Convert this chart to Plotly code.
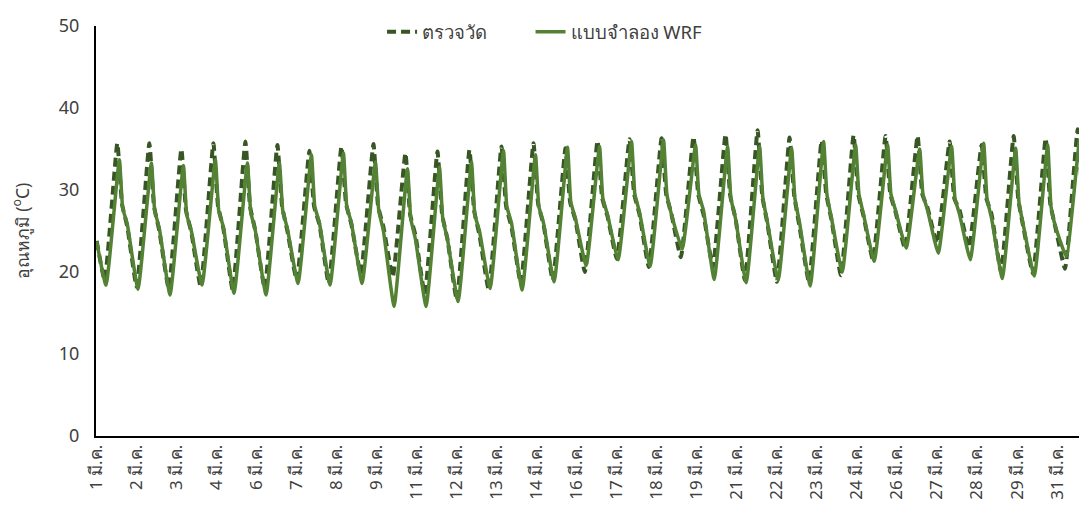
import plotly.graph_objects as go

# Tick labels (every 30 hours on an hourly category axis)
tick_hours = [0, 30, 60, 90, 120, 150, 180, 210, 240, 270, 300, 330, 360,
              390, 420, 450, 480, 510, 540, 570, 600, 630, 660, 690, 720]
tick_labels = ["1 มี.ค.", "2 มี.ค.", "3 มี.ค.", "4 มี.ค.", "6 มี.ค.", "7 มี.ค.",
               "8 มี.ค.", "9 มี.ค.", "11 มี.ค.", "12 มี.ค.", "13 มี.ค.", "14 มี.ค.",
               "16 มี.ค.", "17 มี.ค.", "18 มี.ค.", "19 มี.ค.", "21 มี.ค.", "22 มี.ค.",
               "23 มี.ค.", "24 มี.ค.", "26 มี.ค.", "27 มี.ค.", "28 มี.ค.", "29 มี.ค.",
               "31 มี.ค."]
series_names = ["ตรวจวัด", "แบบจำลอง WRF"]

# Hour-of-day of the key points read for each day: min, max, shoulder, evening
obs_hours_of_day = [6, 15.5, 19, 23]
wrf_hours_of_day = [7, 17, 19.5, 23]

# Observed (ตรวจวัด) daily key values, 1-31 March
obs_start = 23.8
obs_min = [19.0, 18.2, 18.0, 18.2, 17.8, 18.0, 19.0, 18.6, 19.8, 19.4, 17.3, 16.6,
           17.8, 18.6, 19.0, 20.0, 21.6, 20.6, 21.8, 20.6, 19.0, 18.8, 18.8, 19.6,
           21.5, 22.9, 23.5, 23.0, 20.0, 19.8, 20.4]
obs_max = [35.7, 35.7, 35.0, 35.7, 35.9, 35.5, 34.8, 35.3, 35.6, 34.5, 34.7, 34.9,
           35.3, 35.7, 35.1, 36.0, 36.2, 36.3, 36.5, 36.8, 37.3, 36.4, 36.0, 36.7,
           36.6, 36.6, 35.9, 35.5, 36.6, 36.3, 37.4]
obs_shoulder = [28.3, 28.0, 27.5, 28.0, 28.0, 28.0, 28.0, 28.3, 28.0, 27.0, 27.0, 27.5,
                28.0, 28.3, 28.5, 29.0, 29.5, 29.5, 29.5, 29.3, 29.3, 29.3, 29.5, 29.5,
                29.5, 29.5, 29.0, 29.0, 28.8, 28.3, 29.5]
obs_evening = [25.5, 25.0, 24.8, 25.3, 25.0, 25.0, 25.8, 25.8, 25.5, 24.5, 24.0, 24.5,
               25.5, 25.8, 26.3, 26.8, 27.0, 27.0, 27.0, 26.5, 25.8, 25.5, 26.3, 26.8,
               27.3, 27.8, 27.5, 27.0, 25.3, 25.3, 26.8]

# WRF model (แบบจำลอง WRF) daily key values
wrf_start = 23.7
wrf_min = [18.4, 17.9, 17.2, 18.4, 17.4, 17.2, 18.6, 18.4, 18.6, 15.8, 15.8, 16.4,
           18.0, 17.8, 18.8, 20.8, 21.5, 20.7, 22.8, 19.1, 18.7, 19.0, 18.3, 20.0,
           21.3, 22.9, 22.3, 21.5, 19.2, 19.5, 21.9]
wrf_max = [33.7, 33.3, 33.0, 33.7, 33.3, 33.3, 34.3, 34.5, 33.4, 32.6, 32.8, 33.4,
           34.8, 34.3, 35.2, 35.3, 35.9, 36.1, 35.5, 35.3, 35.3, 35.1, 35.9, 35.5,
           35.5, 35.0, 35.3, 35.7, 35.1, 35.5, 36.2]
wrf_shoulder = [27.8, 27.5, 27.0, 27.5, 27.3, 27.5, 28.0, 28.0, 27.5, 26.5, 26.5, 27.0,
                28.0, 28.0, 28.5, 29.0, 29.5, 29.5, 29.5, 29.0, 29.0, 29.0, 29.5, 29.5,
                29.5, 29.5, 29.0, 29.0, 28.5, 28.0, 29.0]
wrf_evening = [25.8, 25.3, 25.0, 25.5, 25.0, 25.3, 26.0, 26.0, 25.0, 24.0, 24.0, 25.0,
               26.0, 26.0, 26.5, 27.0, 27.3, 27.0, 27.5, 26.5, 26.0, 26.0, 26.5, 27.0,
               27.5, 27.5, 27.0, 26.5, 25.5, 25.5, 27.0]


def build(start, hours_of_day, mins, maxs, shoulders, evenings):
    xs, ys = [0], [start]
    for d in range(len(mins)):
        vals = [mins[d], maxs[d], shoulders[d], evenings[d]]
        for hod, v in zip(hours_of_day, vals):
            xs.append(24 * d + hod)
            ys.append(v)
    return xs, ys


ox, oy = build(obs_start, obs_hours_of_day, obs_min, obs_max, obs_shoulder, obs_evening)
wx, wy = build(wrf_start, wrf_hours_of_day, wrf_min, wrf_max, wrf_shoulder, wrf_evening)

FONT = "Noto Sans, DejaVu Sans, sans-serif"
PAD = "\u00a0" * 8  # extra gap between the two legend entries

fig = go.Figure()
fig.add_trace(go.Scatter(x=ox, y=oy, mode="lines", name=series_names[0] + PAD,
                         line=dict(color="#375623", width=4, dash="9px,5px",
                                   shape="spline", smoothing=0.4)))
fig.add_trace(go.Scatter(x=wx, y=wy, mode="lines", name=series_names[1],
                         line=dict(color="#548235", width=3.5,
                                   shape="spline", smoothing=0.4)))

fig.update_layout(
    width=1079, height=517,
    margin=dict(l=96, r=0, t=26, b=81, autoexpand=False),
    paper_bgcolor="white", plot_bgcolor="white",
    font=dict(family=FONT, color="#404040"),
    showlegend=True,
    legend=dict(orientation="h", x=0.291, xanchor="left", y=0.985, yanchor="middle",
                font=dict(size=18.5, color="#404040"), bgcolor="rgba(0,0,0,0)"),
    xaxis=dict(range=[-0.5, 736.5], tickmode="array", tickvals=tick_hours,
               ticktext=tick_labels, tickangle=-90, showgrid=False, zeroline=False,
               showline=True, linecolor="black", linewidth=2, ticks="",
               automargin=False,
               tickfont=dict(size=17, color="#404040")),
    yaxis=dict(range=[0, 50], tickvals=[0, 10, 20, 30, 40, 50], showgrid=False,
               zeroline=False, showline=True, linecolor="black", linewidth=2,
               ticks="", ticklabelstandoff=11, automargin=False,
               tickfont=dict(size=18, color="#404040"),
               title=dict(text="อุณหภูมิ (<sup>o</sup>C)", standoff=25,
                          font=dict(size=17.5, color="#404040"))),
)

fig.write_html("out.html",
               config={"displayModeBar": False},
               post_script="document.body.style.margin='0';"
                           "document.body.style.overflow='hidden';")
